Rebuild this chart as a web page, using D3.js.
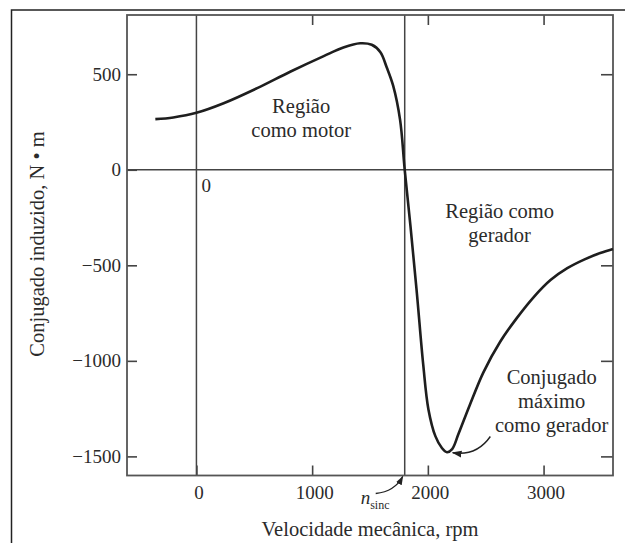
<!DOCTYPE html>
<html>
<head>
<meta charset="utf-8">
<script src="https://cdn.jsdelivr.net/npm/d3@7"></script>
<style>
  body { margin: 0; background: #fff; }
  text { font-family: "Liberation Serif", "Times New Roman", serif; fill: #2b2b2b; }
</style>
</head>
<body>
<div id="chart"></div>
<script>
// curva conjugado x velocidade
const rpm = [-355, -200, 0, 235, 525, 810, 1100, 1270, 1415, 1515, 1590, 1645, 1700, 1760, 1800,
             1850, 1905, 1960, 2005, 2065, 2120, 2165, 2210, 2265, 2360, 2480, 2625, 2770, 2915, 3060, 3205, 3350, 3490, 3600];
const torque = [265, 274, 298, 348, 427, 513, 595, 640, 662, 654, 615, 535, 440, 261, 0,
                -296, -645, -1020, -1254, -1394, -1455, -1478, -1462, -1382, -1235, -1060, -900, -775, -666, -577, -515, -470, -436, -415];

const xTicks = [0, 1000, 2000, 3000];
const yTicks = [-1500, -1000, -500, 0, 500];
const nSync = 1800;

const data = rpm.map((r, i) => ({number: r, time: torque[i]}));

const margin = {top: 15, right: 12, bottom: 67.5, left: 127},
    width = 625 - margin.left - margin.right,
    height = 543 - margin.top - margin.bottom;

const x = d3.scaleLinear().domain([-600, 3600]).range([0, width]);
const y = d3.scaleLinear().domain([-1600, 810]).range([height, 0]);

const line = d3.line()
    .curve(d3.curveCatmullRom.alpha(0.5))
    .x(function(d) { return x(d.number); })
    .y(function(d) { return y(d.time); });

const root = d3.select("#chart").append("svg")
    .attr("width", 625)
    .attr("height", 543);

// moldura externa
root.append("rect")
    .attr("x", 11.5).attr("y", 10).attr("width", 640).attr("height", 600)
    .attr("fill", "none").attr("stroke", "#222").attr("stroke-width", 1.5);

root.append("defs").append("marker")
    .attr("id", "head")
    .attr("viewBox", "0 0 10 10")
    .attr("refX", 9).attr("refY", 5)
    .attr("markerWidth", 7).attr("markerHeight", 7)
    .attr("orient", "auto")
    .append("path").attr("d", "M0,1.5L10,5L0,8.5Z").attr("fill", "#222");

const svg = root.append("g")
    .attr("transform", "translate(" + margin.left + "," + margin.top + ")");

const fontSize = 19;
const labelSize = 20.5;
const fmt = d3.format("d");

// eixos com ticks para dentro
svg.append("g")
    .attr("transform", "translate(0," + height + ")")
    .call(d3.axisBottom(x).tickValues(xTicks).tickFormat(fmt).tickSizeInner(-10).tickSizeOuter(0).tickPadding(10))
    .call(g => g.select(".domain").remove())
    .call(g => g.selectAll("text").attr("dx", 2));

svg.append("g")
    .call(d3.axisTop(x).tickValues(xTicks.slice(1)).tickSizeInner(-10).tickSizeOuter(0).tickFormat(""))
    .call(g => g.select(".domain").remove());

svg.append("g")
    .call(d3.axisLeft(y).tickValues(yTicks).tickFormat(fmt).tickSizeInner(-10).tickSizeOuter(0).tickPadding(6))
    .call(g => g.select(".domain").remove());

svg.append("g")
    .attr("transform", "translate(" + width + ",0)")
    .call(d3.axisRight(y).tickValues(yTicks.filter(v => v !== 0)).tickSizeInner(-12).tickSizeOuter(0).tickFormat(""))
    .call(g => g.select(".domain").remove());

svg.selectAll(".tick line").attr("stroke", "#444").attr("stroke-width", 1.6);
svg.selectAll(".tick text")
    .attr("font-size", fontSize)
    .attr("font-family", "Liberation Serif, serif")
    .attr("fill", "#2b2b2b");

// linhas de referência
svg.append("line")
    .attr("x1", 0).attr("x2", width).attr("y1", y(0)).attr("y2", y(0))
    .attr("stroke", "#444").attr("stroke-width", 1.5);
svg.append("line")
    .attr("x1", x(0)).attr("x2", x(0)).attr("y1", 0).attr("y2", height)
    .attr("stroke", "#444").attr("stroke-width", 1.5);
svg.append("line")
    .attr("x1", x(nSync)).attr("x2", x(nSync)).attr("y1", 0).attr("y2", height)
    .attr("stroke", "#444").attr("stroke-width", 1.5);

svg.append("rect")
    .attr("width", width).attr("height", height)
    .attr("fill", "none").attr("stroke", "#555").attr("stroke-width", 1.8);

svg.append("path")
    .data([data])
    .attr("d", line)
    .attr("fill", "none")
    .attr("stroke", "#1e1e1e")
    .attr("stroke-width", 2.6);

// textos
function label(lines, cx, by) {
    const t = svg.append("text")
        .attr("text-anchor", "middle")
        .attr("font-size", labelSize);
    lines.forEach((s, i) => {
        t.append("tspan").attr("x", cx).attr("y", by + i * 24).text(s);
    });
}
label(["Região", "como motor"], x(905), y(300) + 1);
label(["Região como", "gerador"], x(2620), y(-250));
label(["Conjugado", "máximo", "como gerador"], x(3070), y(-1120));

svg.append("text")
    .attr("x", x(0) + 5).attr("y", y(0) + 22)
    .attr("font-size", fontSize)
    .text("0");

// seta do conjugado máximo
svg.append("path")
    .attr("d", "M" + x(2540) + "," + y(-1396) + "Q" + x(2420) + "," + y(-1500) + " " + x(2215) + "," + y(-1481))
    .attr("fill", "none").attr("stroke", "#222").attr("stroke-width", 1.4)
    .attr("marker-end", "url(#head)");

// n_sinc
const nx = x(nSync);
svg.append("path")
    .attr("d", "M" + (nx - 29) + "," + (height + 18) + "Q" + (nx - 10) + "," + (height + 16) + " " + (nx - 2) + "," + (height + 1))
    .attr("fill", "none").attr("stroke", "#222").attr("stroke-width", 1.3)
    .attr("marker-end", "url(#head)");

const ns = svg.append("text")
    .attr("x", nx - 44).attr("y", height + 28)
    .attr("font-size", 19);
ns.append("tspan").attr("font-style", "italic").text("n");
ns.append("tspan").attr("font-size", 12).attr("dy", 5).text("sinc");

// títulos
svg.append("text")
    .attr("x", x(1500)).attr("y", height + 60)
    .attr("text-anchor", "middle")
    .attr("font-size", labelSize)
    .text("Velocidade mecânica, rpm");

svg.append("text")
    .attr("transform", "translate(" + (38 - margin.left + 6) + "," + (244 - margin.top) + ") rotate(-90)")
    .attr("text-anchor", "middle")
    .attr("font-size", labelSize)
    .text("Conjugado induzido, N • m");
</script>
</body>
</html>
